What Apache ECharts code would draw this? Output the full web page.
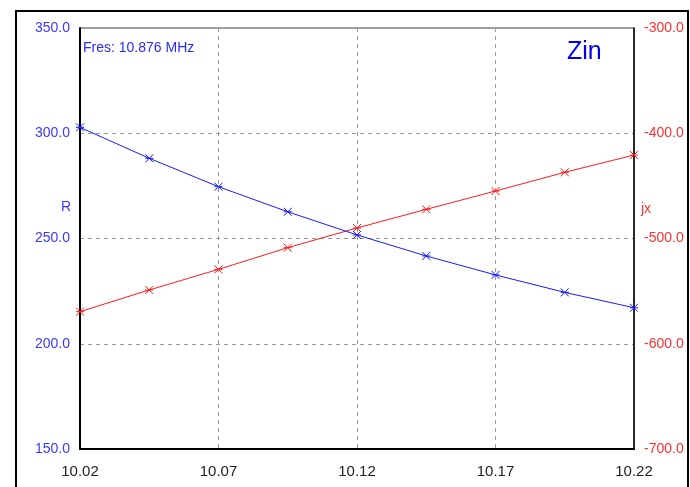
<!DOCTYPE html>
<html>
<head>
<meta charset="utf-8">
<script src="https://cdn.jsdelivr.net/npm/echarts@6/dist/echarts.min.js"></script>
<style>
html,body{margin:0;padding:0;background:#fff;}
#chart{width:690px;height:487px;}
</style>
</head>
<body>
<div id="chart"></div>
<script>
// Frequency (MHz) sample points
var freqs = ["10.020","10.045","10.070","10.095","10.120","10.145","10.170","10.195","10.220"];
// Resistance R (ohm), left axis
var rValues = [302.8, 288.1, 274.6, 262.7, 251.7, 241.7, 232.7, 224.4, 217.1];
// Reactance jx (ohm), right axis
var jxValues = [-569.5, -548.9, -529.3, -508.7, -490.0, -472.3, -454.9, -437.1, -420.7];
var leftTicks = [150, 350, 50];
var rightTicks = [-700, -300, 100];
var titleText = "Zin";
var noteText = "Fres: 10.876 MHz";
var leftName = "R";
var rightName = "jx";

var chart = echarts.init(document.getElementById('chart'), null, {renderer: 'canvas'});
var xMark = 'path://M0,0L10,10M10,0L0,10M0,5L10,5';
var sans = "'Liberation Sans', Arial, sans-serif";
var option = {
  animation: false,
  backgroundColor: '#fff',
  grid: {left: 80, top: 28, right: 56, bottom: 38, show: true, borderColor: '#444', borderWidth: 1,
    backgroundColor: '#fff', containLabel: false, outerBoundsMode: 'none'},
  xAxis: {
    type: 'category',
    data: freqs,
    boundaryGap: false,
    axisLine: {show: true, lineStyle: {color: '#000', width: 2}},
    axisTick: {show: false},
    axisLabel: {
      interval: function (i) { return i % 2 === 0; },
      formatter: function (v) { return parseFloat(v).toFixed(2); },
      color: '#222', fontFamily: sans, fontSize: 15, margin: 15
    },
    splitLine: {
      show: true,
      interval: function (i) { return i % 2 === 0 && i > 0 && i < freqs.length - 1; },
      lineStyle: {color: '#999', type: [4, 4], width: 1}
    }
  },
  yAxis: [
    {
      type: 'value', min: leftTicks[0], max: leftTicks[1], interval: leftTicks[2],
      position: 'left',
      axisLine: {show: true, lineStyle: {color: '#000', width: 2}},
      axisTick: {show: false},
      axisLabel: {color: '#3838ff', fontFamily: sans, fontSize: 14, margin: 10,
        formatter: function (v) { return v.toFixed(1); }},
      splitLine: {show: true, lineStyle: {color: '#999', type: [4, 4], width: 1}}
    },
    {
      type: 'value', min: rightTicks[0], max: rightTicks[1], interval: rightTicks[2],
      position: 'right',
      axisLine: {show: true, lineStyle: {color: '#000', width: 1.5}},
      axisTick: {show: false},
      axisLabel: {color: '#ff3030', fontFamily: sans, fontSize: 14, margin: 10,
        formatter: function (v) { return v.toFixed(1); }},
      splitLine: {show: false}
    }
  ],
  series: [
    {
      type: 'line', yAxisIndex: 0, data: rValues,
      symbol: xMark, symbolSize: 8, showSymbol: true,
      lineStyle: {color: '#1a1aff', width: 1},
      itemStyle: {color: 'rgba(0,0,0,0)', borderColor: '#1a1aff', borderWidth: 1},
      z: 3
    },
    {
      type: 'line', yAxisIndex: 1, data: jxValues,
      symbol: xMark, symbolSize: 8, showSymbol: true,
      lineStyle: {color: '#ff1a1a', width: 1},
      itemStyle: {color: 'rgba(0,0,0,0)', borderColor: '#ff1a1a', borderWidth: 1},
      z: 2
    }
  ],
  graphic: [
    {type: 'rect', shape: {x: 16, y: 11, width: 672, height: 490}, style: {fill: 'none', stroke: '#000', lineWidth: 2}, silent: true, z: 100},
    {type: 'text', left: 83, top: 41, style: {text: noteText, fill: '#2a2aff', font: '14px ' + sans}, z: 100},
    {type: 'text', left: 567, top: 40, style: {text: titleText, fill: '#0000ee', font: '25px ' + sans}, z: 100},
    {type: 'text', left: 61, top: 200, style: {text: leftName, fill: '#3838ff', font: '14px ' + sans}, z: 100},
    {type: 'text', left: 641, top: 202, style: {text: rightName, fill: '#ff3030', font: '14px ' + sans}, z: 100}
  ]
};
chart.setOption(option);
</script>
</body>
</html>
